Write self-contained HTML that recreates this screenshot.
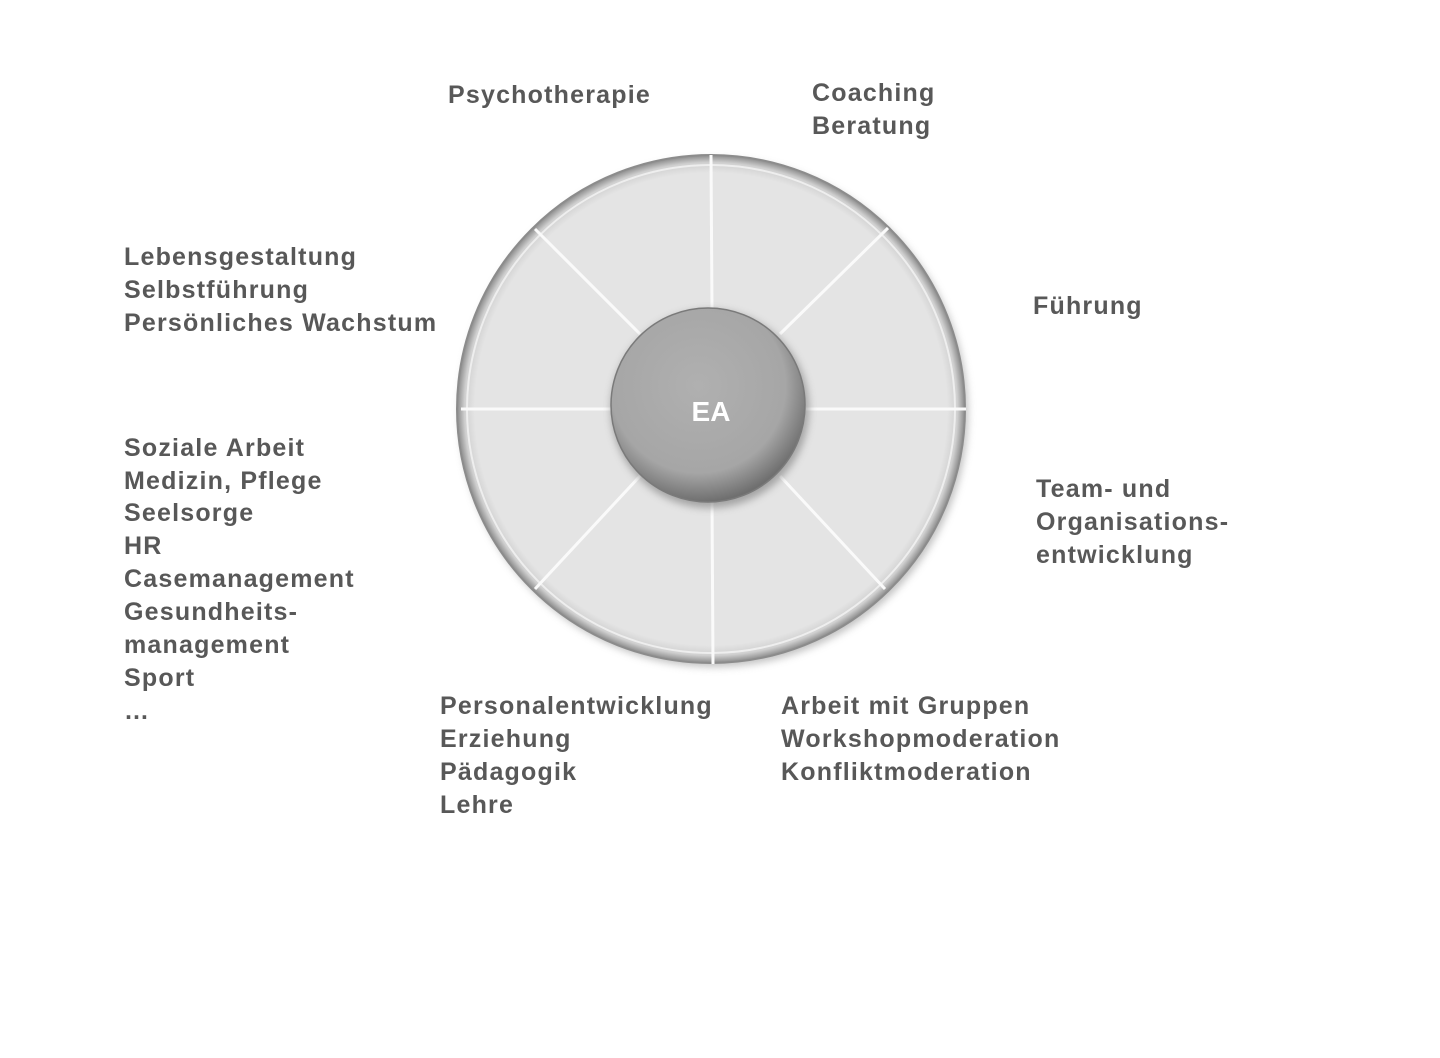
<!DOCTYPE html>
<html><head><meta charset="utf-8"><style>
html,body{margin:0;padding:0;background:#fff;width:1440px;height:1058px;overflow:hidden}
svg{display:block}
text{font-family:"Liberation Sans",Arial,sans-serif;font-weight:bold;font-size:25px;letter-spacing:1.2px;fill:#585858}
</style></head><body>
<svg width="1440" height="1058" viewBox="0 0 1440 1058">
<defs>
<radialGradient id="rim" cx="0.5" cy="0.5" r="0.5">
<stop offset="0.93" stop-color="#e4e4e4"/>
<stop offset="0.97" stop-color="#d0d0d0"/>
<stop offset="1" stop-color="#8a8a8a"/>
</radialGradient>
<radialGradient id="hub" cx="0.45" cy="0.4" r="0.6">
<stop offset="0" stop-color="#b0b0b0"/>
<stop offset="0.75" stop-color="#a6a6a6"/>
<stop offset="1" stop-color="#6f6f6f"/>
</radialGradient>
<filter id="sh" x="-20%" y="-20%" width="140%" height="140%"><feGaussianBlur stdDeviation="4"/></filter>
</defs>
<circle cx="714" cy="413" r="254" fill="#999" filter="url(#sh)" opacity="0.6"/>
<circle cx="711" cy="409" r="254" fill="url(#rim)" stroke="#8c8c8c" stroke-width="2"/>
<circle cx="711" cy="409" r="244" fill="none" stroke="#f4f4f4" stroke-width="2" opacity="0.8"/>
<g stroke="#fafafa" stroke-width="3">
<line x1="461" y1="409" x2="612" y2="409"/>
<line x1="806" y1="409" x2="966" y2="409"/>
<line x1="711" y1="155" x2="712" y2="310"/>
<line x1="712" y1="500" x2="713" y2="664"/>
<line x1="535" y1="229" x2="640" y2="334"/>
<line x1="780" y1="334" x2="888" y2="228"/>
<line x1="640" y1="476" x2="535" y2="589"/>
<line x1="780" y1="476" x2="885" y2="589"/>
</g>
<circle cx="710" cy="409" r="99" fill="#888" filter="url(#sh)" opacity="0.7"/>
<circle cx="708" cy="405" r="97" fill="url(#hub)" stroke="#7a7a7a" stroke-width="1.5"/>
<text x="711" y="421" text-anchor="middle" style="fill:#fff;font-size:28px;letter-spacing:0">EA</text>
<text x="448" y="103">Psychotherapie</text>
<text x="812" y="101">Coaching</text>
<text x="812" y="134">Beratung</text>
<text x="124" y="265">Lebensgestaltung</text>
<text x="124" y="298">Selbstführung</text>
<text x="124" y="331">Persönliches Wachstum</text>
<text x="1033" y="314">Führung</text>
<text x="124" y="456">Soziale Arbeit</text>
<text x="124" y="489">Medizin, Pflege</text>
<text x="124" y="521">Seelsorge</text>
<text x="124" y="554">HR</text>
<text x="124" y="587">Casemanagement</text>
<text x="124" y="620">Gesundheits-</text>
<text x="124" y="653">management</text>
<text x="124" y="686">Sport</text>
<text x="124" y="719">…</text>
<text x="1036" y="497">Team- und</text>
<text x="1036" y="530">Organisations-</text>
<text x="1036" y="563">entwicklung</text>
<text x="440" y="714">Personalentwicklung</text>
<text x="440" y="747">Erziehung</text>
<text x="440" y="780">Pädagogik</text>
<text x="440" y="813">Lehre</text>
<text x="781" y="714">Arbeit mit Gruppen</text>
<text x="781" y="747">Workshopmoderation</text>
<text x="781" y="780">Konfliktmoderation</text>
</svg>
</body></html>
